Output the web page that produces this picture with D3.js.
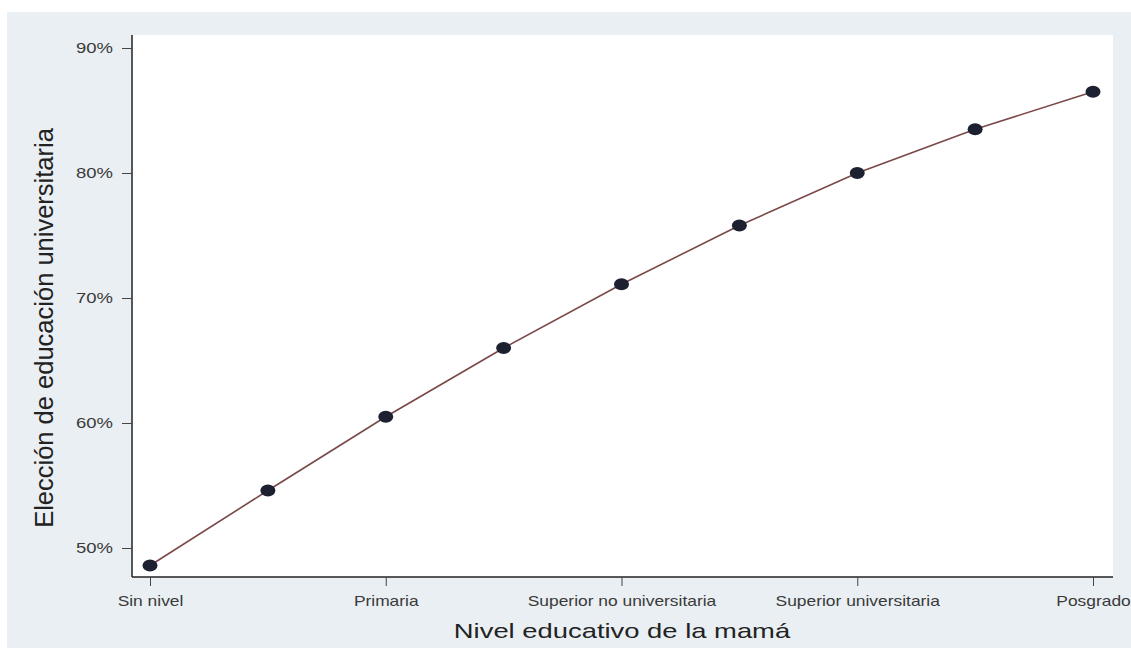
<!DOCTYPE html>
<html><head><meta charset="utf-8">
<script src="https://cdn.jsdelivr.net/npm/d3@7"></script>
<style>body{margin:0;background:#fff;}svg{display:block;font-family:"Liberation Sans",Arial,sans-serif;}</style>
</head><body><svg id="c" width="1131" height="648"></svg>
<script>
const categories = ["Sin nivel","","Primaria","","Superior no universitaria","","Superior universitaria","","Posgrado"];
const values = [48.6, 54.6, 60.5, 66.0, 71.1, 75.8, 80.0, 83.5, 86.5];
const yTicks = [50, 60, 70, 80, 90];

const svg = d3.select("#c");
svg.append("rect").attr("x",7).attr("y",12).attr("width",1124).attr("height",636).attr("fill","#e9eff2");
const m = {l:132, r:1113, t:35, b:577};
svg.append("rect").attr("x",m.l).attr("y",m.t).attr("width",m.r-m.l).attr("height",m.b-m.t).attr("fill","#ffffff");

const x = d3.scalePoint().domain(d3.range(categories.length)).range([150,1093]);
const y = d3.scaleLinear().domain([50,90]).range([548,48]);

const ys = 1.32, xs = 1.16, ts = 1.37;
const yAxis = svg.append("g").attr("transform",`translate(${m.l},0)`)
  .call(d3.axisLeft(y).tickValues(yTicks).tickFormat(d=>d+"%").tickSize(10).tickSizeOuter(0));
yAxis.select(".domain").attr("d",`M0,${m.t}V${m.b}`).attr("stroke","#222").attr("stroke-width",1.5);
yAxis.selectAll(".tick line").attr("stroke","#444");
yAxis.selectAll(".tick text").attr("font-size",14).attr("fill","#3a3a3a").attr("x",-19/ys)
  .attr("transform",`scale(${ys},1)`).attr("font-family","Liberation Sans, Arial, sans-serif");

const xAxis = svg.append("g").attr("transform",`translate(0,${m.b})`)
  .call(d3.axisBottom(x).tickValues(d3.range(0,categories.length,2)).tickFormat(i=>categories[i]).tickSize(9).tickSizeOuter(0));
xAxis.select(".domain").attr("d",`M${m.l},0H${m.r}`).attr("stroke","#222").attr("stroke-width",1.5);
xAxis.selectAll(".tick line").attr("stroke","#444");
xAxis.selectAll(".tick text").attr("font-size",15).attr("fill","#3a3a3a").attr("y",18.5)
  .attr("transform",`scale(${xs},1)`).attr("font-family","Liberation Sans, Arial, sans-serif");

const line = d3.line().x((d,i)=>x(i)).y(d=>y(d));
svg.append("path").datum(values).attr("d",line).attr("fill","none").attr("stroke","#7a4848").attr("stroke-width",1.6);
svg.selectAll("ellipse.pt").data(values).join("ellipse").attr("class","pt")
  .attr("cx",(d,i)=>x(i)).attr("cy",d=>y(d)).attr("rx",7.5).attr("ry",6).attr("fill","#1c2030");

svg.append("g").attr("transform",`translate(622,638) scale(${ts},1)`)
  .append("text").attr("text-anchor","middle").attr("font-size",20).attr("fill","#222").text("Nivel educativo de la mamá");
svg.append("text").attr("transform","translate(53,328) rotate(-90)").attr("text-anchor","middle").attr("font-size",25.5).attr("fill","#222").text("Elección de educación universitaria");
</script></body></html>
